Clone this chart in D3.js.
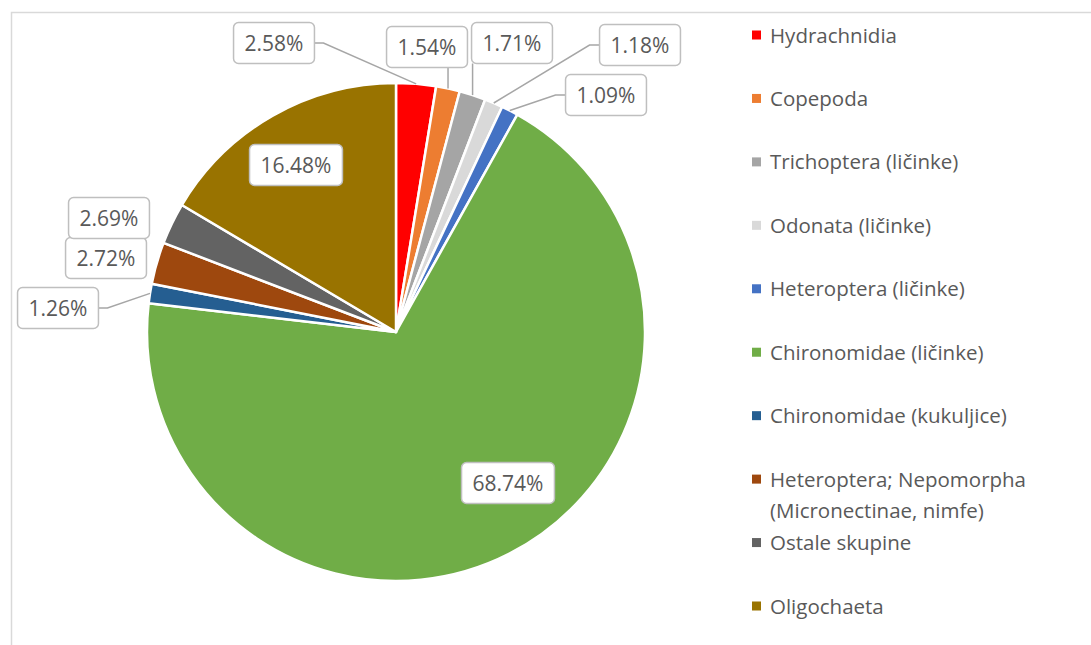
<!DOCTYPE html>
<html>
<head>
<meta charset="utf-8">
<script src="https://cdn.jsdelivr.net/npm/d3@7"></script>
<style>
  body { margin: 0; background: #fff; }
  text { font-family: "Open Sans", sans-serif; }
</style>
</head>
<body>
<div id="chart"></div>
<script>
// Data
let categories = [
  "Hydrachnidia",
  "Copepoda",
  "Trichoptera (ličinke)",
  "Odonata (ličinke)",
  "Heteroptera (ličinke)",
  "Chironomidae (ličinke)",
  "Chironomidae (kukuljice)",
  "Heteroptera; Nepomorpha|(Micronectinae, nimfe)",
  "Ostale skupine",
  "Oligochaeta"
];
let shares = [2.58, 1.54, 1.71, 1.18, 1.09, 68.74, 1.26, 2.72, 2.69, 16.48];
let colors = ["#ff0000", "#ed7d31", "#a5a5a5", "#d9d9d9", "#4472c4",
              "#70ad47", "#255e91", "#9e480e", "#636363", "#997300"];

// Where Excel put each data label (box centre), and whether it has a leader line
let labelLayout = [
  {x: 274, y: 43, leader: true},
  {x: 427, y: 47, leader: true},
  {x: 512, y: 43, leader: true},
  {x: 640, y: 45, leader: true},
  {x: 606, y: 95, leader: true},
  {x: 508, y: 483, leader: false},
  {x: 58, y: 308, leader: true},
  {x: 106, y: 258, leader: false},
  {x: 109, y: 218, leader: false},
  {x: 296, y: 165, leader: false}
];

let w = 1091;
let h = 645;
let cx = 396, cy = 332, r = 249;

let svg = d3.select("#chart")
  .append("svg")
  .attr("width", w)
  .attr("height", h);

// chart area border
svg.append("rect")
  .attr("x", 11.5)
  .attr("y", 12.5)
  .attr("width", 1200)
  .attr("height", 800)
  .attr("fill", "none")
  .attr("stroke", "#d9d9d9")
  .attr("stroke-width", 1.5);

let data = categories.map((c, i) => ({name: c, value: shares[i], color: colors[i], lab: labelLayout[i]}));

let pie = d3.pie().sort(null).value(d => d.value);
let arc = d3.arc().innerRadius(0).outerRadius(r);
let arcs = pie(data);

let g = svg.append("g").attr("transform", `translate(${cx},${cy})`);

g.selectAll("path")
  .data(arcs)
  .join("path")
  .attr("d", arc)
  .attr("fill", d => d.data.color)
  .attr("stroke", "white")
  .attr("stroke-width", 2.5)
  .attr("stroke-linejoin", "round");

// Data labels
let labels = svg.append("g");
arcs.forEach(a => {
  let lab = a.data.lab;
  let mid = (a.startAngle + a.endAngle) / 2;
  let px = cx + r * Math.sin(mid);
  let py = cy - r * Math.cos(mid);

  let grp = labels.append("g");
  let txt = grp.append("text")
    .attr("x", lab.x)
    .attr("y", lab.y + 7.5)
    .attr("text-anchor", "middle")
    .attr("font-size", 21)
    .attr("fill", "#595959")
    .text(a.data.value.toFixed(2) + "%");
  let tw = txt.node().getComputedTextLength();
  let bw = tw + 22, bh = 41;
  let x0 = lab.x - bw / 2, x1 = lab.x + bw / 2;

  if (lab.leader) {
    let pts;
    if (px >= x0 && px <= x1) {
      pts = [[px, lab.y + bh / 2], [px, py]];
    } else if (px > x1) {
      pts = [[x1, lab.y], [x1 + 9, lab.y], [px, py]];
    } else {
      pts = [[x0, lab.y], [x0 - 10, lab.y], [px, py]];
    }
    grp.insert("path", "text")
      .attr("d", d3.line()(pts))
      .attr("fill", "none")
      .attr("stroke", "#a6a6a6")
      .attr("stroke-width", 1.5);
  }

  grp.insert("rect", "text")
    .attr("x", x0)
    .attr("y", lab.y - bh / 2)
    .attr("width", bw)
    .attr("height", bh)
    .attr("rx", 5)
    .attr("fill", "white")
    .attr("stroke", "#bfbfbf")
    .attr("stroke-width", 1.5);
});

// Legend
let legend = svg.append("g");
let legY = d3.scaleLinear().domain([0, categories.length - 1]).range([35, 606]);
data.forEach((d, i) => {
  let y = legY(i);
  legend.append("rect")
    .attr("x", 752)
    .attr("y", y - 4.5)
    .attr("width", 9)
    .attr("height", 9)
    .attr("fill", d.color);
  let t = legend.append("text")
    .attr("x", 770)
    .attr("y", y + 7.5)
    .attr("font-size", 20.5)
    .attr("fill", "#595959");
  d.name.split("|").forEach((line, j) => {
    t.append("tspan")
      .attr("x", 770)
      .attr("dy", j === 0 ? 0 : 31)
      .text(line);
  });
});
</script>
</body>
</html>
